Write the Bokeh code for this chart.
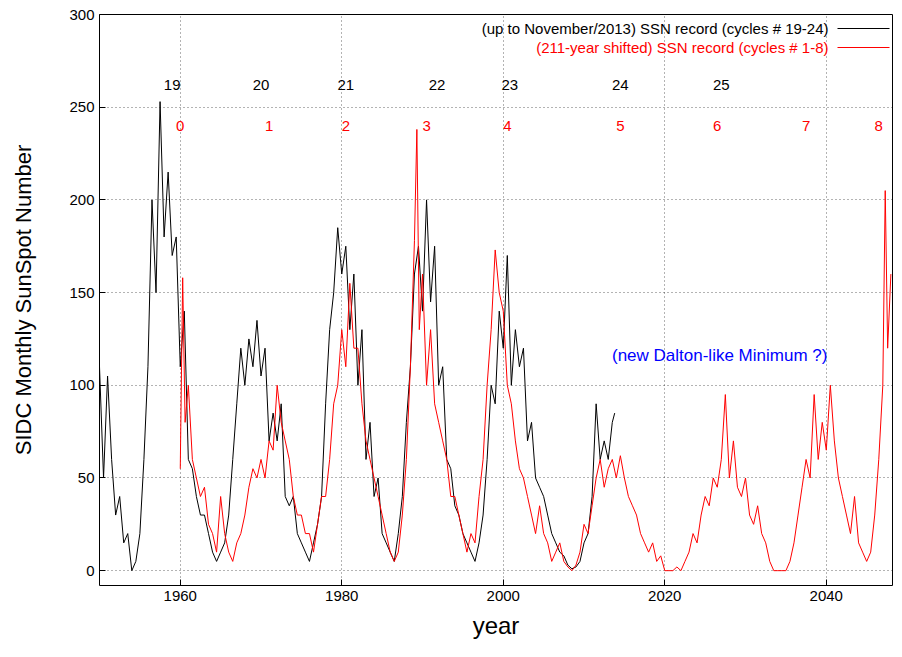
from bokeh.plotting import figure
from bokeh.models import Label, Arrow, Range1d, FixedTicker
from bokeh.core.properties import value
from bokeh.embed import file_html
from bokeh.resources import INLINE

black_year = [1950, 1950.5, 1951, 1951.5, 1952, 1952.5, 1953, 1953.5, 1954, 1954.5,
              1955, 1955.5, 1956, 1956.5, 1957, 1957.5, 1958, 1958.5, 1959, 1959.5,
              1960, 1960.5, 1961, 1961.5, 1962, 1962.5, 1963, 1963.5, 1964, 1964.5,
              1965, 1965.5, 1966, 1966.5, 1967, 1967.5, 1968, 1968.5, 1969, 1969.5,
              1970, 1970.5, 1971, 1971.5, 1972, 1972.5, 1973, 1973.5, 1974, 1974.5,
              1975, 1975.5, 1976, 1976.5, 1977, 1977.5, 1978, 1978.5, 1979, 1979.5,
              1980, 1980.5, 1981, 1981.5, 1982, 1982.5, 1983, 1983.5, 1984, 1984.5,
              1985, 1985.5, 1986, 1986.5, 1987, 1987.5, 1988, 1988.5, 1989, 1989.5,
              1990, 1990.5, 1991, 1991.5, 1992, 1992.5, 1993, 1993.5, 1994, 1994.5,
              1995, 1995.5, 1996, 1996.5, 1997, 1997.5, 1998, 1998.5, 1999, 1999.5,
              2000, 2000.5, 2001, 2001.5, 2002, 2002.5, 2003, 2003.5, 2004, 2004.5,
              2005, 2005.5, 2006, 2006.5, 2007, 2007.5, 2008, 2008.5, 2009, 2009.5,
              2010, 2010.5, 2011, 2011.5, 2012, 2012.5, 2013, 2013.5, 2013.8]
black_ssn = [110, 50, 105, 60, 30, 40, 15, 20, 0, 5,
             20, 60, 110, 200, 150, 253, 180, 215, 170, 180,
             110, 140, 60, 55, 40, 30, 30, 20, 10, 5,
             10, 15, 30, 60, 90, 120, 100, 125, 110, 135,
             105, 120, 70, 85, 70, 90, 40, 35, 40, 20,
             15, 10, 5, 15, 25, 40, 90, 130, 150, 185,
             160, 175, 130, 160, 100, 130, 60, 80, 40, 50,
             20, 15, 10, 5, 20, 40, 80, 110, 160, 175,
             140, 200, 145, 175, 100, 110, 60, 55, 35, 30,
             20, 15, 10, 5, 15, 30, 60, 100, 90, 140,
             120, 170, 100, 130, 110, 120, 70, 80, 50, 45,
             40, 30, 20, 15, 10, 8, 3, 1, 2, 5,
             15, 20, 40, 90, 60, 70, 60, 80, 85]

# 211-year shifted SSN record (cycles 1-8)
red_year = [1960, 1960.3, 1960.6, 1961, 1961.5, 1962, 1962.5, 1963, 1963.5, 1964, 1964.5,
            1965, 1965.5, 1966, 1966.5, 1967, 1967.5, 1968, 1968.5, 1969, 1969.5,
            1970, 1970.5, 1971, 1971.5, 1972, 1972.5, 1973, 1973.5, 1974, 1974.5,
            1975, 1975.5, 1976, 1976.5, 1977, 1977.5, 1978, 1978.5, 1979, 1979.5,
            1980, 1980.5, 1981, 1981.5, 1982, 1982.5, 1983, 1983.5, 1984, 1984.5,
            1985, 1985.5, 1986, 1986.5, 1987, 1987.5, 1988, 1988.5, 1989, 1989.3, 1989.6,
            1990, 1990.5, 1991, 1991.5, 1992, 1992.5, 1993, 1993.5, 1994, 1994.5,
            1995, 1995.5, 1996, 1996.5, 1997, 1997.5, 1998, 1998.5, 1999, 1999.5,
            2000, 2000.5, 2001, 2001.5, 2002, 2002.5, 2003, 2003.5, 2004, 2004.5,
            2005, 2005.5, 2006, 2006.5, 2007, 2007.5, 2008, 2008.5, 2009, 2009.5,
            2010, 2010.5, 2011, 2011.5, 2012, 2012.5, 2013, 2013.5, 2014, 2014.5,
            2015, 2015.5, 2016, 2016.5, 2017, 2017.5, 2018, 2018.5, 2019, 2019.5,
            2020, 2020.5, 2021, 2021.5, 2022, 2022.5, 2023, 2023.5, 2024, 2024.5,
            2025, 2025.5, 2026, 2026.5, 2027, 2027.5, 2028, 2028.5, 2029, 2029.5,
            2030, 2030.5, 2031, 2031.5, 2032, 2032.5, 2033, 2033.5, 2034, 2034.5,
            2035, 2035.5, 2036, 2036.5, 2037, 2037.5, 2038, 2038.5, 2039, 2039.5,
            2040, 2040.5, 2041, 2041.5, 2042, 2042.5, 2043, 2043.5, 2044, 2044.5,
            2045, 2045.5, 2046, 2046.5, 2047, 2047.3, 2047.6, 2048]
red_ssn = [55, 158, 80, 100, 60, 50, 40, 45, 25, 20, 10,
           40, 20, 10, 5, 15, 20, 30, 45, 55, 50,
           60, 50, 70, 65, 100, 80, 70, 60, 40, 30,
           30, 20, 20, 10, 25, 40, 40, 60, 90, 100,
           130, 110, 155, 120, 120, 90, 70, 60, 50, 40,
           30, 20, 10, 5, 10, 30, 60, 110, 178, 238, 130,
           160, 100, 130, 90, 80, 70, 60, 40, 40, 30,
           20, 10, 20, 15, 40, 60, 100, 130, 173, 150,
           140, 100, 90, 70, 55, 50, 40, 30, 20, 35,
           20, 15, 5, 10, 15, 5, 2, 0, 3, 10,
           25, 20, 35, 50, 60, 45, 55, 60, 50, 62,
           50, 40, 35, 30, 20, 15, 10, 15, 5, 8,
           0, 0, 0, 2, 0, 5, 10, 20, 15, 30,
           40, 35, 50, 45, 60, 95, 50, 70, 45, 40,
           50, 30, 25, 35, 20, 15, 5, 0, 0, 0,
           0, 5, 15, 30, 45, 60, 50, 95, 60, 80,
           65, 100, 70, 50, 40, 30, 20, 40, 15, 10,
           5, 10, 30, 60, 100, 205, 120, 160]

black_cycles = ["19", "20", "21", "22", "23", "24", "25"]
black_cycle_year = [1959, 1970, 1980.5, 1991.8, 2000.8, 2014.5, 2027]
red_cycles = ["0", "1", "2", "3", "4", "5", "6", "7", "8"]
red_cycle_year = [1960, 1971, 1980.5, 1990.5, 2000.5, 2014.5, 2026.5, 2037.5, 2046.5]

FONT = "Liberation Sans"

p = figure(width=893, height=641, output_backend="svg", toolbar_location=None,
           x_range=Range1d(1950, 2048.2), y_range=Range1d(-8, 300),
           min_border_left=99, min_border_right=1, min_border_top=14, min_border_bottom=52)
p.background_fill_color = "white"
p.outline_line_color = "black"
p.outline_line_width = 1

for ax in (p.xaxis[0], p.yaxis[0]):
    ax.major_label_text_font = FONT
    ax.major_label_text_font_size = "15px"
    ax.major_label_text_color = "black"
    ax.axis_label_text_font = FONT
    ax.axis_label_text_font_style = "normal"
    ax.axis_label_text_color = "black"
    ax.axis_line_color = None
    ax.major_tick_in = 6
    ax.major_tick_out = 0
    ax.minor_tick_line_color = None
p.xaxis.ticker = FixedTicker(ticks=[1960, 1980, 2000, 2020, 2040])
p.yaxis.ticker = FixedTicker(ticks=[0, 50, 100, 150, 200, 250, 300])
p.xaxis.axis_label = "year"
p.xaxis.axis_label_text_font_size = "24px"
p.xaxis.axis_label_standoff = 8
p.yaxis.axis_label = "SIDC Monthly SunSpot Number"
p.yaxis.axis_label_text_font_size = "22px"
p.yaxis.axis_label_standoff = 30

p.grid.grid_line_color = "black"
p.grid.grid_line_dash = "1 3"
p.grid.grid_line_alpha = 0.6

p.line(black_year, black_ssn, line_color="black", line_width=1)
p.line(red_year, red_ssn, line_color="red", line_width=1)

p.text(black_cycle_year, [262] * len(black_cycle_year), text=black_cycles,
       text_font=value(FONT), text_font_size="15px", text_color="black",
       text_align="center", text_baseline="middle")
p.text(red_cycle_year, [240] * len(red_cycle_year), text=red_cycles,
       text_font=value(FONT), text_font_size="15px", text_color="red",
       text_align="center", text_baseline="middle")

p.add_layout(Label(x=2026.8, y=116, text="(new Dalton-like Minimum ?)", text_font=FONT,
                   text_font_size="17px", text_color="blue", text_align="center",
                   text_baseline="middle"))

legend = [("(up to November/2013) SSN record (cycles # 19-24)", "black", 557),
          ("(211-year shifted) SSN record (cycles # 1-8)", "red", 538)]
for txt, col, yy in legend:
    p.add_layout(Label(x=729, y=yy, x_units="screen", y_units="screen", text=txt,
                       text_font=FONT, text_font_size="15px", text_color=col,
                       text_align="right", text_baseline="middle"))
    p.add_layout(Arrow(end=None, x_start=738, x_end=790, y_start=yy, y_end=yy,
                       start_units="screen", end_units="screen",
                       line_color=col, line_width=1))

open("out.html", "w").write(file_html(p, INLINE))
